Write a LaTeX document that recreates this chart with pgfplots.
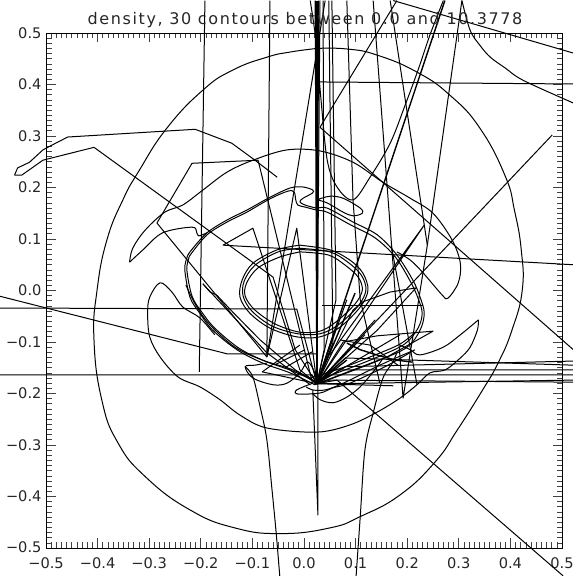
\documentclass[border=0pt]{standalone}
\usepackage{pgfplots}
\usepackage{fontspec}
\setmainfont{DejaVu Sans}
\newfontfamily\titlefont[LetterSpace=10]{DejaVu Sans}
\pgfplotsset{compat=1.18}
\pgfplotsset{c/.style={black,line width=1.0pt,line join=round,mark=none},
 e/.style={black,line width=1.0pt,line join=round,mark=none,smooth,tension=0.55},
 d/.style={black,line width=1.4pt,line join=round,mark=none}}
\begin{document}
\begin{tikzpicture}[x=1pt,y=1pt]
\useasboundingbox (0,0) rectangle (573,576);
\clip (0,0) rectangle (573,576);
\begin{axis}[
 at={(46pt,28pt)},anchor=south west,scale only axis,width=516pt,height=515pt,
 xmin=-0.5,xmax=0.5,ymin=-0.5,ymax=0.5,clip=false,
 xtick={-0.5,-0.4,-0.3,-0.2,-0.1,0,0.1,0.2,0.3,0.4,0.5},
 ytick={-0.5,-0.4,-0.3,-0.2,-0.1,0,0.1,0.2,0.3,0.4,0.5},
 xticklabels={−0.5,−0.4,−0.3,−0.2,−0.1,0.0,0.1,0.2,0.3,0.4,0.5},
 yticklabels={{\raisebox{2pt}{−0.5}},−0.4,−0.3,−0.2,−0.1,0.0,0.1,0.2,0.3,0.4,{\raisebox{-4pt}{0.5}}},
 minor tick num=9,tick align=inside,
 major tick length=9.5pt,minor tick length=5.5pt,
 every tick/.style={black!75,line width=0.7pt},
 axis line style={black,line width=0.9pt},
 ticklabel style={font=\fontsize{14.6}{15}\selectfont,text=black!85},
 xticklabel style={yshift=-6pt},
 yticklabel style={xshift=-1pt},
 title={\titlefont\fontsize{16}{17}\selectfont density, 30 contours between 0.0 and 10.3778},
 title style={at={(0.5,1)},anchor=center,yshift=7pt,xshift=1pt,text=black!85},
]
% outer contour
\addplot[e,tension=0.8] coordinates {(.025,.470)(.083,.469)(.142,.457)(.219,.424)(.283,.379)(.341,.315)(.390,.222)(.408,.155)(.421,.079)(.423,.001)(.403,-.077)(.376,-.141)(.345,-.195)(.297,-.271)(.254,-.333)(.186,-.397)(.109,-.439)(.050,-.461)(-.045,-.472)(-.134,-.461)(-.221,-.426)(-.307,-.362)(-.361,-.295)(-.392,-.212)(-.407,-.096)(-.401,.001)(-.382,.098)(-.351,.176)(-.320,.232)(-.266,.315)(-.196,.389)(-.138,.428)(-.072,.453)(-.027,.463)(.025,.470)};
% second contour
\addplot[e] coordinates {(-.338,.055)(-.332,.082)(-.308,.117)(-.270,.152)(-.235,.166)(-.196,.195)(-.149,.230)(-.099,.253)(-.033,.273)(.031,.271)(.095,.249)(.153,.210)(.206,.179)(.250,.150)(.287,.098)(.303,.053)(.299,.015)(.279,-.015)(.268,-.009)(.231,.034)(.206,.059)(.180,.075)};
\addplot[e] coordinates {(.186,-.106)(.206,-.115)(.225,-.125)(.270,-.110)(.303,-.086)(.338,-.057)};
\addplot[e] coordinates {(.338,-.057)(.336,-.077)(.322,-.110)(.303,-.131)(.274,-.154)(.244,-.160)(.219,-.183)(.186,-.209)(.142,-.236)(.089,-.261)(.025,-.275)(-.072,-.267)(-.124,-.242)(-.163,-.212)(-.202,-.187)(-.244,-.168)(-.279,-.129)(-.299,-.090)(-.303,-.044)(-.299,-.013)(-.279,.015)(-.256,-.003)(-.235,-.032)(-.202,-.053)(-.173,-.086)};
\addplot[e] coordinates {(-.338,.055)(-.312,.079)(-.274,.112)(-.217,.123)(-.208,.113)(-.204,.106)(-.188,.112)};
% thick ring strands
\addplot[e] coordinates {(-.227,.063)(-.231,.040)(-.221,-.013)(-.202,-.044)(-.177,-.077)(-.130,-.115)(-.080,-.141)(-.027,-.160)(.021,-.183)};
\addplot[e] coordinates {(.021,-.183)(.083,-.160)(.147,-.135)(.200,-.110)(.225,-.077)(.233,-.044)(.225,-.013)(.211,.020)(.180,.069)(.142,.108)(.095,.133)(.045,.160)(.025,.160)(.002,.166)(-.008,.172)(-.002,.179)(.016,.189)(.017,.195)(-.002,.201)(-.027,.199)(-.066,.181)(-.111,.156)(-.149,.137)(-.188,.112)(-.221,.075)(-.227,.063)};
\addplot[e] coordinates {(-.223,.063)(-.227,.040)(-.217,-.011)(-.198,-.042)(-.173,-.073)(-.126,-.112)(-.076,-.137)(-.023,-.156)(.021,-.176)};
\addplot[e] coordinates {(.021,-.176)(.080,-.154)(.143,-.129)(.195,-.104)(.221,-.073)(.229,-.044)(.221,-.015)(.207,.016)(.177,.065)(.138,.102)(.091,.127)(.045,.152)(.025,.156)(.002,.162)(-.012,.166)(-.016,.176)(-.019,.191)(-.031,.193)(-.066,.178)(-.111,.152)(-.149,.133)(-.188,.108)(-.219,.071)(-.223,.063)};
\addplot[e] coordinates {(-.229,.011)(-.210,-.028)(-.182,-.067)(-.134,-.110)(-.081,-.135)(-.027,-.152)(.012,-.170)};
\addplot[e] coordinates {(.012,-.170)(.080,-.148)(.143,-.123)(.186,-.104)(.215,-.082)};
\addplot[e] coordinates {(.017,-.180)(-.014,-.193)(-.012,-.201)(.031,-.199)(.056,-.189)(.089,-.180)(.157,-.148)(.215,-.115)};
\addplot[e] coordinates {(.004,-.187)(.016,-.193)(.041,-.193)(.076,-.180)(.147,-.145)(.206,-.119)};
\addplot[e] coordinates {(.016,-.199)(.031,-.212)(.056,-.218)(.083,-.207)(.109,-.187)(.134,-.158)(.151,-.135)};
\addplot[e] coordinates {(-.072,-.141)(-.095,-.145)(-.114,-.148)(-.099,-.170)(-.060,-.183)(-.033,-.180)(-.008,-.160)(.006,-.139)(.017,-.151)(.025,-.174)};
% inner ring
\addplot[e] coordinates {(-.008,.088)(-.052,.079)(-.099,.053)(-.120,.020)(-.124,-.013)(-.105,-.044)(-.066,-.073)(-.014,-.090)(.031,-.090)(.070,-.071)(.109,-.032)(.124,.001)(.114,.034)(.089,.059)(.050,.079)(-.008,.088)};
\addplot[e] coordinates {(-.008,.082)(-.050,.075)(-.095,.049)(-.116,.018)(-.118,-.011)(-.101,-.040)(-.062,-.069)(-.012,-.084)(.031,-.084)(.066,-.067)(.105,-.030)(.120,.001)(.111,.030)(.085,.055)(.050,.075)(-.008,.082)};
\addplot[e] coordinates {(-.008,.075)(-.047,.065)(-.089,.044)(-.111,.015)(-.114,-.011)(-.095,-.038)(-.056,-.065)(-.008,-.081)(.031,-.079)(.062,-.061)(.099,-.026)(.113,.001)(.105,.026)(.080,.049)(.047,.069)(-.008,.075)};
% small loop
\addplot[e] coordinates {(.025,.176)(.050,.183)(.076,.179)(.109,.160)(.113,.150)(.095,.145)(.076,.152)(.045,.170)(.025,.176)};
% long strokes
\addplot[c] coordinates {(-.192,.563)(-.203,-.158)};
\addplot[c] coordinates {(-.066,.563)(-.072,-.129)(.041,.563)};
\addplot[c] coordinates {(-.561,.224)(-.555,.238)(-.532,.249)(-.506,.273)(-.489,.282)(-.458,.298)(-.211,.313)(-.140,.286)(-.095,.253)(-.052,.220)};
\addplot[c] coordinates {(-.561,.224)(-.547,.224)(-.506,.253)(-.407,.278)(-.060,.026)(-.017,-.115)(.025,-.181)};
\addplot[c] coordinates {(-.072,-.129)(-.285,.131)(-.217,.247)(-.089,.253)(.016,-.178)};
\addplot[c] coordinates {(-.590,-.011)(-.149,-.123)(.025,-.123)(.025,-.181)};
\addplot[c] coordinates {(-.590,-.034)(-.014,-.036)(.025,-.181)};
\addplot[c] coordinates {(-.590,-.164)(.016,-.164)(.025,-.181)};
\addplot[c] coordinates {(.522,.050)(-.157,.088)(-.099,.121)(-.008,-.154)(.025,-.181)};
\addplot[c] coordinates {(-.072,-.129)(-.014,.121)(.025,-.181)};
\addplot[c] coordinates {(-.196,.013)(-.182,-.003)(-.169,-.009)(-.138,-.042)(-.085,-.096)(-.017,-.154)(.025,-.181)};
\addplot[c] coordinates {(-.196,.013)(-.072,-.121)(.012,-.183)};
\addplot[e] coordinates {(-.114,-.148)(-.099,-.168)(-.085,-.226)(-.072,-.290)(-.062,-.387)(-.054,-.470)(-.047,-.554)};
\addplot[e] coordinates {(.180,-.121)(.171,-.141)(.153,-.170)(.134,-.238)(.118,-.310)(.109,-.439)(.101,-.554)};
\addplot[c] coordinates {(.017,-.193)(.027,-.436)(.027,-.181)};
% thick vertical bundle
\addplot[d] coordinates {(.025,-.181)(.022,.563)};
\addplot[d] coordinates {(.025,-.181)(.025,.563)};
\addplot[d] coordinates {(.025,-.181)(.028,.563)};
\addplot[c] coordinates {(.025,-.181)(.031,.563)};
\addplot[e] coordinates {(.012,.563)(.023,.486)(.033,.370)(.045,.253)(.064,.201)(.095,.176)(.128,.220)(.167,.286)(.196,.360)(.221,.428)(.244,.496)(.270,.563)};
\addplot[d] coordinates {(.025,-.181)(.273,.563)};
\addplot[e] coordinates {(.306,.563)(.322,.505)(.341,.476)(.361,.453)(.390,.432)(.425,.408)(.522,.364)};
\addplot[c] coordinates {(.173,.563)(.522,.461)};
\addplot[c] coordinates {(.180,.563)(.031,.317)(.522,-.115)};
\addplot[c] coordinates {(.025,.405)(.522,.401)};
\addplot[c] coordinates {(.025,-.181)(.481,.302)};
\addplot[c] coordinates {(.025,-.181)(.080,-.131)(.522,-.145)};
\addplot[c] coordinates {(.025,-.181)(.080,-.148)(.522,-.137)};
\addplot[c] coordinates {(.025,-.181)(.050,-.154)(.522,-.154)};
\addplot[c] coordinates {(.025,-.181)(.050,-.164)(.522,-.164)};
\addplot[c] coordinates {(.025,-.181)(.050,-.181)(.522,-.174)};
\addplot[c] coordinates {(.025,-.181)(.050,-.174)(.522,-.178)};
\addplot[c] coordinates {(.025,-.181)(.064,-.174)(.502,-.554)};
\addplot[c] coordinates {(.134,.563)(.192,-.209)(.239,.088)(.167,.563)};
\addplot[c] coordinates {(.239,.088)(.306,.563)};
\addplot[c] coordinates {(.219,-.183)(.169,.088)};
\addplot[c] coordinates {(.083,.563)(.095,.176)(.109,-.018)(.147,-.180)};
\addplot[c] coordinates {(.048,.563)(.056,-.102)(.025,-.181)};
\addplot[c] coordinates {(.054,.563)(.062,-.018)(.025,-.181)};
\addplot[c] coordinates {(.037,.563)(.039,-.115)(.025,-.181)};
% fan around the apex
\addplot[c] coordinates {(.025,-.181)(.233,.127)(.050,-.125)};
\addplot[c] coordinates {(.025,-.181)(.076,-.100)(.142,-.088)(.250,-.079)(.161,-.129)(.025,-.181)};
\addplot[c] coordinates {(.025,-.181)(.095,-.038)(.114,-.022)(.167,-.003)(.217,.005)(.142,-.077)(.025,-.181)};
\addplot[d] coordinates {(.025,-.181)(.099,-.005)};
\addplot[d] coordinates {(.025,-.181)(.083,-.135)};
\addplot[c] coordinates {(.035,-.030)(.231,-.030)};
\addplot[d] coordinates {(.083,-.102)(.109,-.115)(.147,-.127)(.177,-.135)(.209,-.139)};
\addplot[c] coordinates {(.070,-.096)(.128,-.106)(.182,-.145)};
\addplot[c] coordinates {(.025,-.181)(.173,-.185)};
\addplot[c] coordinates {(.025,-.181)(.186,-.086)};
\addplot[c] coordinates {(.025,-.181)(.138,-.057)};
\addplot[c] coordinates {(.025,-.181)(.083,-.018)};
\addplot[c] coordinates {(.025,-.181)(.060,-.077)};
\addplot[c] coordinates {(.025,-.181)(.118,-.086)};
\addplot[c] coordinates {(-.081,-.158)(.025,-.181)};
\addplot[c] coordinates {(-.081,-.158)(-.008,-.106)};
\addplot[c] coordinates {(-.056,-.144)(.002,-.115)};
\addplot[c] coordinates {(-.037,-.150)(.016,-.119)};
\end{axis}
\end{tikzpicture}
\end{document}
